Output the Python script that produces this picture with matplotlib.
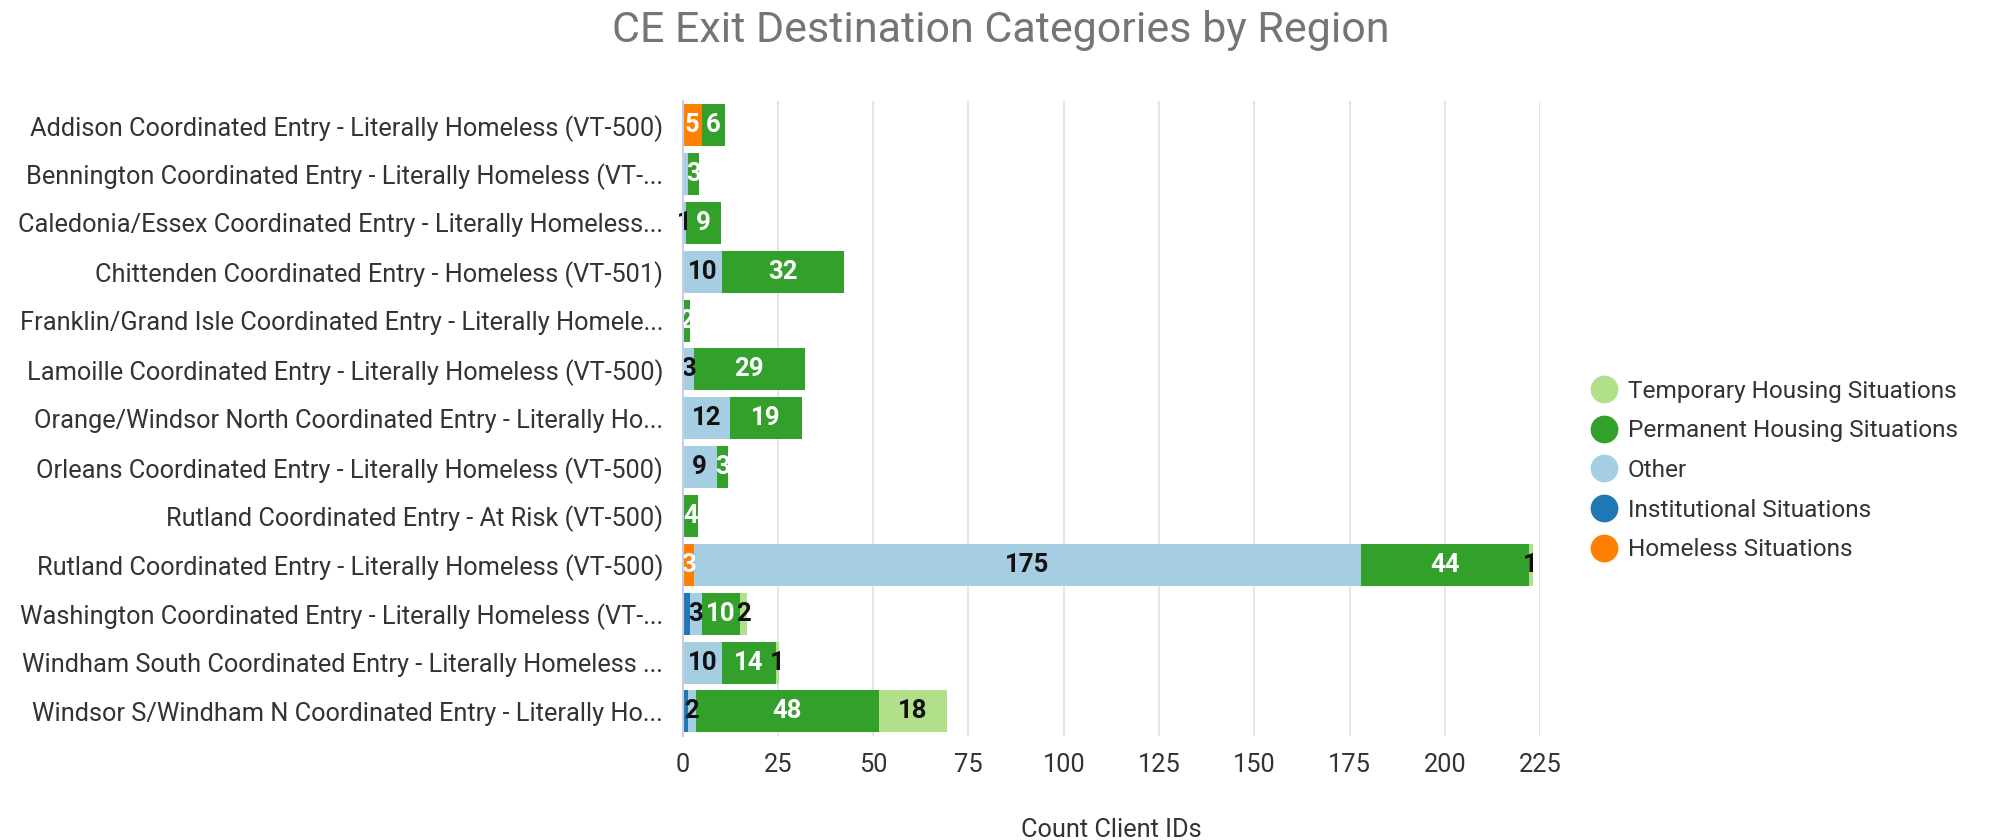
import numpy as np
import matplotlib.pyplot as plt

plt.rcParams['font.family'] = ['Roboto', 'DejaVu Sans']

regions = [
    "Addison Coordinated Entry - Literally Homeless (VT-500)",
    "Bennington Coordinated Entry - Literally Homeless (VT-...",
    "Caledonia/Essex Coordinated Entry - Literally Homeless...",
    "Chittenden Coordinated Entry - Homeless (VT-501)",
    "Franklin/Grand Isle Coordinated Entry - Literally Homele...",
    "Lamoille Coordinated Entry - Literally Homeless (VT-500)",
    "Orange/Windsor North Coordinated Entry - Literally Ho...",
    "Orleans Coordinated Entry - Literally Homeless (VT-500)",
    "Rutland Coordinated Entry - At Risk (VT-500)",
    "Rutland Coordinated Entry - Literally Homeless (VT-500)",
    "Washington Coordinated Entry - Literally Homeless (VT-...",
    "Windham South Coordinated Entry - Literally Homeless ...",
    "Windsor S/Windham N Coordinated Entry - Literally Ho...",
]

# stacked left to right
homeless      = [5, 0.4, 0, 0.4, 0, 0, 0, 0, 0, 3, 0, 0.4, 0.4]
institutional = [0, 0, 0, 0, 0, 0, 0.4, 0, 0, 0, 2, 0, 1]
other         = [0, 0.9, 1, 10, 0, 3, 12, 9, 0, 175, 3, 10, 2]
permanent     = [6, 3, 9, 32, 2, 29, 19, 3, 4, 44, 10, 14, 48]
temporary     = [0, 0, 0, 0, 0, 0, 0, 0, 0, 1, 2, 1, 18]

series = [
    ("Homeless Situations", homeless, "#ff7f00", "white", True),
    ("Institutional Situations", institutional, "#1f78b4", "white", False),
    ("Other", other, "#a6cee3", "#111111", True),
    ("Permanent Housing Situations", permanent, "#33a02c", "white", True),
    ("Temporary Housing Situations", temporary, "#b2df8a", "#111111", True),
]

fig = plt.figure(figsize=(19.9, 8.4), dpi=100)
ax = fig.add_axes([0.343, 0.124, 0.431, 0.756])

y = np.arange(len(regions))
left = np.zeros(len(regions))
colors = {}
for name, vals, col, tcol, show in series:
    vals = np.array(vals, dtype=float)
    ax.barh(y, vals, left=left, height=0.86, color=col, edgecolor='none', zorder=3)
    colors[name] = col
    if show:
        for yi, (l, v) in enumerate(zip(left, vals)):
            if v >= 1:
                ax.text(l + v / 2, yi, str(int(round(v))), ha='center', va='center',
                        color=tcol, fontsize=18.5, fontweight='bold', zorder=4)
    left += vals

ax.set_ylim(len(regions) - 0.5, -0.5)
ax.set_xlim(0, 225)
ax.set_xticks(np.arange(0, 226, 25))
ax.set_yticks(y)
ax.set_yticklabels(regions, fontsize=18.3, color='#333333')
ax.tick_params(axis='x', labelsize=18.3, colors='#333333', length=0, pad=12)
ax.tick_params(axis='y', length=0, pad=14)
ax.grid(axis='x', color='#e0e0e0', linewidth=1.2, zorder=0)
for s in ['top', 'right', 'bottom']:
    ax.spines[s].set_visible(False)
ax.spines['left'].set_color('#c9cde6')
ax.spines['left'].set_linewidth(1.5)
ax.spines['left'].set_zorder(5)

ax.set_xlabel("Count Client IDs", fontsize=18.3, color='#333333', labelpad=30)
fig.suptitle("CE Exit Destination Categories by Region", fontsize=31, color='#757575',
             y=0.988, x=0.503)

# legend
order = ["Temporary Housing Situations", "Permanent Housing Situations", "Other",
         "Institutional Situations", "Homeless Situations"]
leg_handles = [plt.Line2D([], [], marker='o', linestyle='none', markersize=20,
                          markerfacecolor=colors[n], markeredgecolor='none') for n in order]
fig.legend(leg_handles, order, loc='center left', bbox_to_anchor=(0.788, 0.44),
           frameon=False, fontsize=17.6, handletextpad=0.45, labelspacing=0.68,
           labelcolor='#333333', handlelength=1.1)

fig.savefig("out.png", dpi=100)
